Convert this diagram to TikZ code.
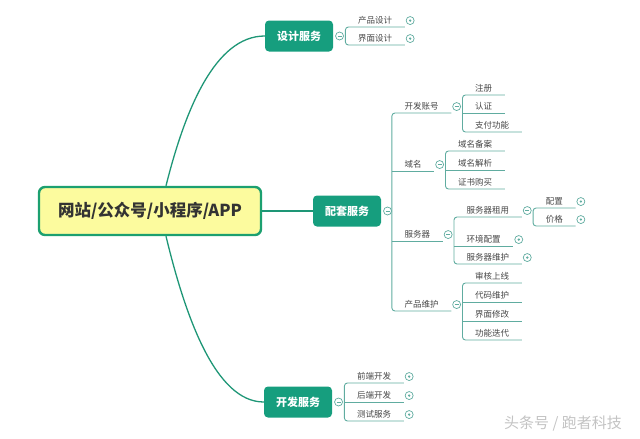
\documentclass[tikz,border=0pt]{standalone}
\usepackage{fontspec}
\setmainfont{Noto Sans CJK SC}
\usepackage{tikz}
\usetikzlibrary{positioning}
\definecolor{topicteal}{RGB}{22,158,126}
\definecolor{limbteal}{RGB}{30,150,118}
\definecolor{twigteal}{RGB}{96,172,160}
\definecolor{rootfill}{RGB}{252,251,158}
\definecolor{rootedge}{RGB}{28,160,112}
\definecolor{labelgrey}{RGB}{70,70,70}
\definecolor{markgrey}{RGB}{195,195,195}
\tikzset{
  root/.style={draw=rootedge,fill=rootfill,line width=2.4pt,rounded corners=6pt,
               minimum width=222pt,minimum height=48pt,text=black!80,
               font=\bfseries\fontsize{16.5}{18}\selectfont},
  topic/.style={fill=topicteal,rounded corners=4pt,minimum width=68pt,
                minimum height=31pt,text=white,font=\bfseries\fontsize{11}{13}\selectfont},
  leaf/.style={anchor=south west,inner xsep=12.5pt,inner ysep=2pt,text height=7pt,
               text depth=1.5pt,text=labelgrey,font=\fontsize{8.5}{10}\selectfont},
  limb/.style={draw=limbteal,line width=1.3pt},
  twig/.style={draw=twigteal,line width=.9pt,rounded corners=3pt},
  fold/.style={circle,draw=twigteal,fill=white,line width=.7pt,minimum size=8pt,
               inner sep=0pt,
               path picture={\draw[twigteal,line width=.6pt]
                 ([xshift=-2pt]path picture bounding box.center) --
                 ([xshift=2pt]path picture bounding box.center);}},
  more/.style={circle,draw=twigteal,fill=white,line width=.7pt,minimum size=8pt,
               inner sep=0pt,
               path picture={\fill[twigteal] (path picture bounding box.center)
                 circle (1.3pt);}},
  stamp/.style={text=markgrey,font=\fontsize{15}{17}\selectfont},
}
\begin{document}
\begin{tikzpicture}[x=1pt,y=-1pt]
  \useasboundingbox (0,0) rectangle (640,439);
  % root and the three main topics
  \node[root] (web) at (150,211) {网站/公众号/小程序/APP};
  \node[topic] (design) at (299,36) {设计服务};
  \node[topic] (support) at (347,211) {配套服务};
  \node[topic] (develop) at (298,402) {开发服务};
  \draw[limb] ([xshift=16pt]web.north) .. controls (185,110) and (215,36) .. (design.west);
  \draw[limb] (web.east) -- (support.west);
  \draw[limb] ([xshift=16pt]web.south) .. controls (185,315) and (215,402) .. (develop.west);
  \node[fold,right=2pt of design] (fdesign) {};
  \node[fold,right=2pt of support] (fsupport) {};
  \node[fold,right=2pt of develop] (fdevelop) {};
  % design
  \foreach \n/\t/\u in {cpsj/产品设计/27,jmsj/界面设计/45}{
    \node[leaf] (\n) at ([xshift=1.5pt]fdesign.east |- 0,\u) {\t};
    \node[more,right=1pt of \n] (m\n) {};}
  \draw[twig] (cpsj.south east) -- (cpsj.south west) -- (jmsj.south west) -- (jmsj.south east);
  % support, second level
  \foreach \n/\t/\u in {acct/开发账号/113,domain/域名/171,server/服务器/241,upkeep/产品维护/311}{
    \node[leaf] (\n) at (fsupport.east |- 0,\u) {\t};
    \node[fold,right=1pt of \n] (f\n) {};}
  \draw[twig] (acct.south east) -- (acct.south west) -- (upkeep.south west) -- (upkeep.south east);
  \foreach \n in {domain,server}
    \draw[twig] (\n.south west) -- (\n.south east);
  % support, third level
  \foreach \p/\n/\t/\u in {acct/zhuce/注册/95,acct/renzheng/认证/113,acct/zhifu/支付功能/132,
      domain/beian/域名备案/151,domain/jiexi/域名解析/170,domain/zhengshu/证书购买/189,
      server/zuyong/服务器租用/217,server/huanjing/环境配置/246,server/weihu/服务器维护/264,
      upkeep/shenhe/审核上线/283,upkeep/daima/代码维护/302,upkeep/xiugai/界面修改/321,
      upkeep/diedai/功能迭代/340}
    \node[leaf] (\n) at ([xshift=1.5pt]f\p.east |- 0,\u) {\t};
  \draw[twig] (zhuce.south east) -- (zhuce.south west) -- (zhifu.south west) -- (zhifu.south east);
  \draw[twig] (renzheng.south west) -- (renzheng.south east);
  \draw[twig] (beian.south east) -- (beian.south west) -- (zhengshu.south west) -- (zhengshu.south east);
  \draw[twig] (jiexi.south west) -- (jiexi.south east);
  \draw[twig] (zuyong.south east) -- (zuyong.south west) -- (weihu.south west) -- (weihu.south east);
  \draw[twig] (huanjing.south west) -- (huanjing.south east);
  \draw[twig] (shenhe.south east) -- (shenhe.south west) -- (diedai.south west) -- (diedai.south east);
  \foreach \n in {daima,xiugai}
    \draw[twig] (\n.south west) -- (\n.south east);
  \foreach \n in {huanjing,weihu}
    \node[more,right=1pt of \n] (m\n) {};
  \node[fold,right=1pt of zuyong] (fzuyong) {};
  \foreach \n/\t/\u in {peizhi/配置/208,jiage/价格/226}{
    \node[leaf] (\n) at ([xshift=1.5pt]fzuyong.east |- 0,\u) {\t};
    \node[more,right=1pt of \n] (m\n) {};}
  \draw[twig] (peizhi.south east) -- (peizhi.south west) -- (jiage.south west) -- (jiage.south east);
  % develop
  \foreach \n/\t/\u in {qianduan/前端开发/383,houduan/后端开发/402,ceshi/测试服务/421}{
    \node[leaf] (\n) at ([xshift=1.5pt]fdevelop.east |- 0,\u) {\t};
    \node[more,right=1pt of \n] (m\n) {};}
  \draw[twig] (qianduan.south east) -- (qianduan.south west) -- (ceshi.south west) -- (ceshi.south east);
  \draw[twig] (houduan.south west) -- (houduan.south east);
  \node[stamp] (wm) at (563,424) {头条号 / 跑者科技};
\end{tikzpicture}
\end{document}
